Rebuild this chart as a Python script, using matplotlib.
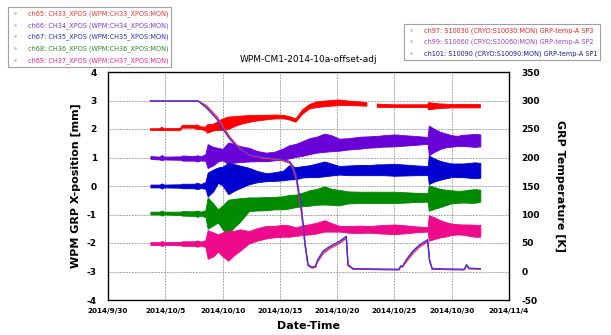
import numpy as np
import matplotlib
matplotlib.use("Agg")
import matplotlib.pyplot as plt
import matplotlib.dates as mdates
from matplotlib.lines import Line2D

plt.rcParams["axes.unicode_minus"] = False

# X position channels: sample days (days after 2014/9/30), band centre and half width [mm]
pos_day = [3.7, 4.5, 4.7, 4.9, 6.3, 6.5, 7.5, 7.8, 8.1, 8.5, 8.7, 9.2, 9.6, 10.0, 10.5, 11.0, 11.5,
           12.3, 13.0, 13.8, 14.5, 15.3, 15.8, 16.4, 17.0, 17.6, 18.2, 18.9, 19.5, 20.2, 21.0, 22.0,
           22.6, 23.0, 23.5, 24.0, 25.0, 26.0, 27.0, 27.9, 28.0, 28.5, 29.0, 29.5, 30.0, 30.5, 31.0,
           31.5, 32.0, 32.5]

ch65_mid = [1.98, 1.98, 2.0, 1.98, 1.98, 2.08, 2.08, 2.06, 2.03, 2.0, 2.0, 2.05, 2.1, 2.15, 2.2, 2.25, 2.3,
            2.35, 2.38, 2.4, 2.42, 2.42, 2.38, 2.3, 2.6, 2.78, 2.85, 2.88, 2.9, 2.92, 2.9, 2.88,
            2.86, np.nan, 2.82, 2.81, 2.8, 2.8, 2.8, 2.8, 2.8, 2.8, 2.8, 2.8, 2.8, 2.8, 2.8,
            2.8, 2.8, 2.8]
ch65_half = [0.03, 0.03, 0.06, 0.03, 0.04, 0.05, 0.05, 0.08, 0.05, 0.06, 0.15, 0.12, 0.15, 0.2, 0.22, 0.18, 0.15,
             0.12, 0.1, 0.08, 0.07, 0.06, 0.06, 0.06, 0.08, 0.08, 0.1, 0.1, 0.1, 0.1, 0.08, 0.07,
             0.06, 0.06, 0.06, 0.05, 0.05, 0.05, 0.05, 0.05, 0.13, 0.1, 0.08, 0.07, 0.06, 0.06, 0.06,
             0.06, 0.06, 0.06]

ch66_mid = [1.0, 0.98, 1.0, 0.98, 0.98, 0.98, 0.97, 0.97, 0.97, 1.0, 1.05, 1.05, 1.1, 1.1, 1.15, 1.15, 1.12,
            1.1, 1.05, 1.02, 1.05, 1.12, 1.2, 1.25, 1.32, 1.4, 1.45, 1.52, 1.5, 1.45, 1.48, 1.52,
            1.54, 1.55, 1.56, 1.58, 1.6, 1.6, 1.6, 1.6, 1.6, 1.6, 1.6, 1.6, 1.58, 1.58, 1.6,
            1.6, 1.6, 1.6]
ch66_half = [0.05, 0.05, 0.09, 0.05, 0.06, 0.09, 0.08, 0.11, 0.07, 0.12, 0.42, 0.32, 0.24, 0.2, 0.38, 0.33, 0.28,
             0.24, 0.18, 0.15, 0.15, 0.2, 0.23, 0.23, 0.26, 0.28, 0.28, 0.32, 0.28, 0.21, 0.2, 0.21,
             0.2, 0.2, 0.2, 0.2, 0.21, 0.18, 0.15, 0.12, 0.52, 0.4, 0.3, 0.24, 0.2, 0.18, 0.2,
             0.21, 0.23, 0.21]

ch67_mid = [0.0, 0.0, 0.0, 0.0, 0.0, 0.0, 0.0, 0.0, 0.0, 0.02, 0.05, 0.2, 0.38, 0.35, 0.26, 0.3, 0.32,
            0.35, 0.33, 0.31, 0.33, 0.37, 0.48, 0.45, 0.5, 0.52, 0.55, 0.6, 0.58, 0.55, 0.55, 0.56,
            0.56, 0.56, 0.57, 0.57, 0.57, 0.56, 0.55, 0.54, 0.57, 0.56, 0.55, 0.55, 0.55, 0.55, 0.55,
            0.55, 0.55, 0.55]
ch67_half = [0.05, 0.05, 0.09, 0.05, 0.06, 0.08, 0.08, 0.11, 0.07, 0.12, 0.42, 0.38, 0.27, 0.33, 0.55, 0.47, 0.4,
             0.29, 0.2, 0.14, 0.15, 0.17, 0.25, 0.21, 0.2, 0.21, 0.24, 0.26, 0.21, 0.15, 0.17, 0.18,
             0.18, 0.18, 0.19, 0.19, 0.21, 0.19, 0.17, 0.16, 0.5, 0.4, 0.33, 0.28, 0.24, 0.24, 0.24,
             0.26, 0.28, 0.26]

ch68_mid = [-0.95, -0.95, -0.95, -0.95, -0.96, -0.96, -0.97, -0.97, -0.97, -0.97, -0.95, -1.0, -1.05, -1.1, -1.1, -0.95, -0.85,
            -0.64, -0.63, -0.62, -0.6, -0.59, -0.55, -0.52, -0.47, -0.42, -0.38, -0.33, -0.38, -0.41, -0.4, -0.4,
            -0.4, -0.4, -0.4, -0.4, -0.4, -0.4, -0.4, -0.4, -0.42, -0.42, -0.42, -0.4, -0.38, -0.38, -0.37,
            -0.36, -0.35, -0.34]
ch68_half = [0.05, 0.05, 0.09, 0.05, 0.06, 0.08, 0.08, 0.11, 0.07, 0.12, 0.55, 0.38, 0.23, 0.42, 0.62, 0.5, 0.42,
             0.24, 0.23, 0.23, 0.22, 0.23, 0.24, 0.22, 0.24, 0.27, 0.28, 0.32, 0.28, 0.27, 0.21, 0.2,
             0.2, 0.2, 0.2, 0.2, 0.2, 0.18, 0.16, 0.15, 0.45, 0.38, 0.32, 0.27, 0.23, 0.21, 0.21,
             0.23, 0.24, 0.21]

ch69_mid = [-2.02, -2.02, -2.02, -2.02, -2.02, -2.02, -2.02, -2.02, -2.02, -2.02, -2.05, -2.05, -2.0, -2.05, -2.1, -2.0, -1.9,
            -1.8, -1.7, -1.62, -1.6, -1.57, -1.58, -1.6, -1.55, -1.52, -1.48, -1.4, -1.45, -1.5, -1.52, -1.52,
            -1.52, -1.52, -1.52, -1.52, -1.52, -1.52, -1.52, -1.52, -1.47, -1.48, -1.5, -1.52, -1.52, -1.52, -1.53,
            -1.55, -1.57, -1.57]
ch69_half = [0.05, 0.05, 0.09, 0.05, 0.06, 0.08, 0.08, 0.11, 0.07, 0.12, 0.5, 0.42, 0.3, 0.42, 0.52, 0.43, 0.38,
             0.22, 0.22, 0.22, 0.2, 0.21, 0.2, 0.15, 0.17, 0.18, 0.19, 0.2, 0.15, 0.1, 0.12, 0.13,
             0.12, 0.12, 0.14, 0.15, 0.17, 0.14, 0.1, 0.08, 0.45, 0.38, 0.3, 0.25, 0.2, 0.18, 0.18,
             0.2, 0.21, 0.21]

# GRP temperatures [K]
temp_day = [3.7, 7.87, 8.6, 9.5, 10.05, 10.64, 11.5, 12.4, 13.5, 15.0, 15.87, 16.15, 16.45, 16.9, 17.2,
            17.46, 17.8, 18.1, 18.3, 18.77, 19.35, 20.2, 20.8, 20.95, 21.4, 25.4, 25.55, 25.7, 26.04,
            26.6, 27.2, 27.9, 28.07, 28.3, 31.1, 31.3, 31.5, 32.5]
ch101_temp = [299, 299, 287, 267, 249, 232, 214, 205, 201, 198, 193, 185, 167, 110, 50,
              12, 8, 9, 21, 36, 44, 53, 62, 12, 5, 4, 10, 9, 21,
              36, 47, 56, 20, 5, 4, 12, 6, 5]
ch99_temp = [299, 299, 289, 270, 251, 234, 215, 204, 200, 197, 191, 182, 163, 105, 47,
             11, 7, 8, 19, 34, 42, 51, 60, 11, 4, 3, 9, 8, 19,
             34, 45, 54, 19, 4, 3, 11, 5, 4]
ch97_temp = [299, 299, 291, 272, 254, 236, 216, 204, 199, 196, 190, 180, 160, 100, 45,
             10, 6, 7, 17, 31, 40, 49, 58, 10, 4, 3, 9, 8, 17,
             31, 43, 52, 18, 4, 3, 11, 5, 4]

pos_labels = ["ch65: CH33_XPOS (WPM:CH33_XPOS:MON)", "ch66: CH34_XPOS (WPM:CH34_XPOS:MON)",
              "ch67: CH35_XPOS (WPM:CH35_XPOS:MON)", "ch68: CH36_XPOS (WPM:CH36_XPOS:MON)",
              "ch69: CH37_XPOS (WPM:CH37_XPOS:MON)"]
temp_labels = ["ch97: S10030 (CRYO:S10030:MON) GRP-temp-A SP3",
               "ch99: S10060 (CRYO:S10060:MON) GRP-temp-A SP2",
               "ch101: S10090 (CRYO:S10090:MON) GRP-temp-A SP1"]

pos_colors = ["#ff0000", "#6a00d8", "#0000d0", "#008a00", "#ee0a8a"]
pos_text_colors = ["#ee3333", "#7a3ad0", "#2a2ab8", "#2a8a2a", "#ee2290"]
temp_colors = ["#ff3030", "#a040e0", "#3030ff"]
temp_text_colors = ["#ee2222", "#9a40d0", "#1a1a90"]

t0 = mdates.datestr2num("2014-09-30")
xp = t0 + np.array(pos_day)
xt = t0 + np.array(temp_day)

fig = plt.figure(figsize=(6.11, 3.35), dpi=100)
ax = fig.add_axes([108 / 611, 1 - 300 / 335, 401 / 611, 228 / 335])

bands = [(ch65_mid, ch65_half), (ch66_mid, ch66_half), (ch67_mid, ch67_half),
         (ch68_mid, ch68_half), (ch69_mid, ch69_half)]
for (mid, half), col in zip(bands, pos_colors):
    mid = np.array(mid)
    half = np.array(half)
    ax.fill_between(xp, mid - half, mid + half, color=col, lw=0.6, edgecolor=col, zorder=3)

ax.set_xlim(t0, t0 + 35)
ax.set_ylim(-4, 4)
ax.set_yticks(np.arange(-4, 5, 1))
ax.set_xticks(t0 + np.arange(0, 36, 5))
ax.xaxis.set_major_formatter(plt.FuncFormatter(
    lambda v, p: "{0.year}/{0.month}/{0.day}".format(mdates.num2date(v))))
ax.grid(True, color="#a8a8a8", lw=0.7, ls=(0, (2, 1)))
ax.set_axisbelow(True)
ax.tick_params(length=0, labelsize=6.5, pad=8)
ax.tick_params(axis="x", labelsize=5.2, pad=6)
for lab in ax.get_yticklabels() + ax.get_xticklabels():
    lab.set_fontweight("bold")
ax.set_ylabel("WPM GRP X-position [mm]", fontsize=8, fontweight="bold", labelpad=4)
ax.set_xlabel("Date-Time", fontsize=8, fontweight="bold", labelpad=5)
ax.set_title("WPM-CM1-2014-10a-offset-adj", fontsize=6.5, pad=7)
for s in ax.spines.values():
    s.set_linewidth(0.9)

ax2 = ax.twinx()
for temps, col in zip([ch99_temp, ch97_temp, ch101_temp], [temp_colors[1], temp_colors[0], temp_colors[2]]):
    ax2.plot(xt, temps, color=col, lw=0.9, zorder=5)
ax2.set_ylim(-50, 350)
ax2.set_yticks(np.arange(-50, 351, 50))
ax2.tick_params(length=0, labelsize=6.5, pad=9)
for lab in ax2.get_yticklabels():
    lab.set_fontweight("bold")
ax2.set_ylabel("GRP Temperature [K]", fontsize=8, fontweight="bold", rotation=270, labelpad=18)

# legend boxes
leg_kw = dict(loc="upper left", fontsize=4.7, frameon=True, fancybox=False, edgecolor="#888888",
              borderaxespad=0, handlelength=1.2, labelspacing=0.75, borderpad=0.5, handletextpad=1.3)
h1 = [Line2D([], [], ls="none", marker=".", ms=2, color="#c8c8c8") for _ in pos_labels]
leg1 = fig.legend(h1, pos_labels, bbox_to_anchor=(8 / 611, 1 - 7 / 335),
                  labelcolor=pos_text_colors, **leg_kw)
leg1.get_frame().set_linewidth(0.8)
h2 = [Line2D([], [], ls="none", marker=".", ms=2, color="#c8c8c8") for _ in temp_labels]
leg2 = fig.legend(h2, temp_labels, bbox_to_anchor=(404 / 611, 1 - 24 / 335),
                  labelcolor=temp_text_colors, **leg_kw)
leg2.get_frame().set_linewidth(0.8)

fig.savefig("out.png", dpi=100)
